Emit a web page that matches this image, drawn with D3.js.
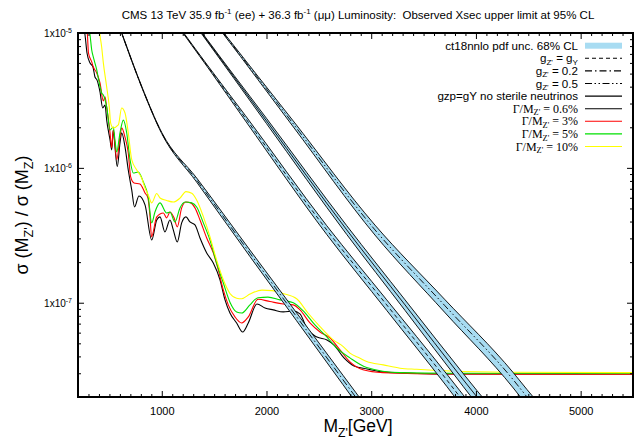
<!DOCTYPE html>
<html><head><meta charset="utf-8">
<script src="https://cdn.jsdelivr.net/npm/d3@7"></script>
<style>
body{margin:0;background:#fff}
svg{display:block}
text{font-family:"Liberation Sans",Arial,sans-serif;fill:#000}
.serif{font-family:"Liberation Serif","Times New Roman",serif}
</style>
</head><body><svg id="c" width="637" height="439"></svg>
<script>
// ---------- tick labels ----------
const xTickValues = [1000, 2000, 3000, 4000, 5000];
const yTickValues = [1e-5, 1e-6, 1e-7];
const yTickExponents = ["-5", "-6", "-7"];

// ---------- observed limits (sigma(MZ')/sigma(MZ)) ----------
const lim06Mass = [250,267,286,315,343,362,381,410,436,458,474,506,522,537,553,575,601,617,649,680,713,740,782,840,904,952,983,1030,1078,1110,1148,1190,1231,1269,1317,1365,1429,1492,1556,1604,1651,1715,1773,1826,1909,1986,2065,2160,2256,2320,2387,2482,2578,2645,2740,2836,2960,3112,3437,3752,5500];
const lim06Sigma = [1.15e-5,9.66e-6,7.11e-6,6.00e-6,5.60e-6,4.72e-6,4.49e-6,3.66e-6,2.78e-6,2.92e-6,2.26e-6,1.61e-6,1.36e-6,1.91e-6,1.43e-6,1.02e-6,1.53e-6,1.82e-6,1.43e-6,9.64e-7,6.86e-7,5.13e-7,6.19e-7,5.31e-7,2.92e-7,4.11e-7,4.33e-7,3.35e-7,4.11e-7,3.47e-7,2.82e-7,3.91e-7,4.33e-7,3.97e-7,3.78e-7,3.02e-7,2.34e-7,1.97e-7,1.48e-7,1.05e-7,8.39e-8,7.08e-8,6.07e-8,7.08e-8,9.79e-8,9.14e-8,8.85e-8,8.55e-8,8.69e-8,8.26e-8,6.40e-8,5.57e-8,5.30e-8,4.86e-8,3.90e-8,3.40e-8,3.23e-8,3.07e-8,2.99e-8,2.96e-8,2.96e-8];

const lim3Mass = [280,290,300,331,346,379,410,442,458,474,506,522,537,570,601,617,649,680,703,735,792,840,868,888,902,952,1015,1047,1078,1117,1148,1190,1231,1276,1317,1365,1429,1492,1540,1588,1635,1699,1763,1826,1919,2033,2160,2256,2320,2415,2511,2606,2702,2797,2921,3112,3752,5500];
const lim3Sigma = [1.15e-5,9.66e-6,7.11e-6,6.10e-6,5.60e-6,5.05e-6,4.26e-6,3.13e-6,3.36e-6,2.82e-6,1.82e-6,1.41e-6,1.91e-6,1.15e-6,1.69e-6,1.98e-6,1.69e-6,1.29e-6,8.57e-7,7.73e-7,7.60e-7,6.52e-7,5.98e-7,4.33e-7,3.08e-7,4.33e-7,4.63e-7,4.26e-7,4.71e-7,4.26e-7,3.65e-7,5.05e-7,5.58e-7,5.50e-7,5.05e-7,4.11e-7,3.02e-7,2.34e-7,1.75e-7,1.24e-7,9.64e-8,7.85e-8,7.08e-8,7.85e-8,1.06e-7,1.02e-7,9.79e-8,9.64e-8,8.85e-8,7.08e-8,6.07e-8,5.48e-8,4.47e-8,3.64e-8,3.18e-8,3.03e-8,2.96e-8,2.95e-8];

const lim5Mass = [300,315,331,346,379,394,426,442,474,506,537,553,570,601,633,665,697,728,776,824,871,904,935,983,1047,1078,1126,1174,1222,1286,1333,1397,1460,1524,1588,1651,1715,1763,1842,1919,2014,2129,2256,2351,2463,2578,2670,2797,2957,3275,3752,5500];
const lim5Sigma = [1.15e-5,9.66e-6,7.48e-6,6.64e-6,5.32e-6,4.63e-6,3.59e-6,3.47e-6,2.82e-6,1.91e-6,2.01e-6,1.61e-6,1.31e-6,1.82e-6,2.26e-6,1.82e-6,1.15e-6,9.16e-7,9.33e-7,7.85e-7,6.08e-7,3.91e-7,4.71e-7,5.50e-7,4.63e-7,4.71e-7,3.97e-7,5.05e-7,5.58e-7,5.50e-7,5.13e-7,3.91e-7,2.92e-7,1.97e-7,1.40e-7,1.01e-7,8.55e-8,8.39e-8,9.64e-8,1.09e-7,1.10e-7,1.05e-7,1.00e-7,8.69e-8,6.84e-8,5.57e-8,4.62e-8,3.90e-8,3.31e-8,3.03e-8,3.00e-8,3.00e-8];

const lim10Mass = [400,410,426,442,474,499,512,537,585,617,649,680,713,761,808,840,871,904,952,983,1047,1110,1174,1231,1286,1333,1397,1460,1524,1588,1651,1715,1763,1842,1957,2052,2160,2288,2396,2511,2638,2733,2797,2893,2957,3115,3275,3434,3752,4389,5500];
const lim10Sigma = [1.15e-5,9.66e-6,7.87e-6,6.00e-6,3.98e-6,2.82e-6,2.15e-6,1.98e-6,2.08e-6,2.78e-6,2.55e-6,1.82e-6,1.15e-6,9.64e-7,8.41e-7,7.10e-7,6.30e-7,5.50e-7,6.46e-7,5.98e-7,5.73e-7,5.58e-7,5.96e-7,6.67e-7,6.49e-7,5.78e-7,4.35e-7,3.09e-7,2.07e-7,1.48e-7,1.17e-7,1.08e-7,1.07e-7,1.16e-7,1.24e-7,1.23e-7,1.17e-7,1.07e-7,8.39e-8,6.65e-8,5.30e-8,4.73e-8,4.23e-8,3.88e-8,3.66e-8,3.46e-8,3.27e-8,3.21e-8,3.12e-8,3.05e-8,3.03e-8];

// ---------- theory predictions with ct18nnlo pdf uncertainty (%) ----------
const g02Mass  = [500,617,808,1000,1333,1842,2731,2851,3000];
const g02Sigma = [1.78e-5,1.00e-5,4.00e-6,1.81e-6,8.13e-7,2.33e-7,2.68e-8,2.00e-8,1.39e-8];
const g02Unc   = [0.8,0.8,0.8,1,3.5,5.5,8,8.5,9];

const gYMass  = [1100,1206,1430,1800,2575,3148,3721,3848,4000];
const gYSigma = [1.30e-5,1.00e-5,5.77e-6,2.33e-6,3.47e-7,9.64e-8,2.68e-8,2.00e-8,1.41e-8];
const gYUnc   = [1,1,1.5,4.5,7.5,9,10.5,11,11.5];

const gYnsMass  = [1280,1381,2000,2766,3323,3880,4010,4150];
const gYnsSigma = [1.28e-5,1.00e-5,2.23e-6,3.47e-7,9.64e-8,2.68e-8,2.00e-8,1.48e-8];
const gYnsUnc   = [1.5,1.5,4.5,7.5,9,11,11.5,12];

const g05Mass  = [1480,1587,2250,3036,3700,4357,4488,4650];
const g05Sigma = [1.28e-5,1.00e-5,2.15e-6,3.47e-7,9.57e-8,2.68e-8,2.00e-8,1.41e-8];
const g05Unc   = [1.5,1.5,5,8.5,11,13,13.5,14];

// ---------- drawing ----------
const svg = d3.select("#c");
const M = {l:78, r:633, t:33, b:397};
const x = d3.scaleLinear().domain([200, 5500]).range([M.l, M.r]);
const y = d3.scaleLog().domain([2e-8, 1e-5]).range([M.b, M.t]);

svg.append("rect").attr("width",637).attr("height",439).attr("fill","#fff");
svg.append("clipPath").attr("id","clip").append("rect")
  .attr("x",M.l).attr("y",M.t).attr("width",M.r-M.l).attr("height",M.b-M.t);
const plot = svg.append("g").attr("clip-path","url(#clip)");

const zip = (ms, ss, us) => ms.map((m,i) => ({m, s:ss[i], u: us ? us[i] : 0}));

const bands = [
  {d: zip(g02Mass, g02Sigma, g02Unc), dash:"7,3,1.5,3"},
  {d: zip(gYMass, gYSigma, gYUnc), dash:"4,3"},
  {d: zip(gYnsMass, gYnsSigma, gYnsUnc), dash:null},
  {d: zip(g05Mass, g05Sigma, g05Unc), dash:"7,2.5,1.5,2.5,1.5,2.5"}
];
const bandFill = "#a8dcf2";
const area = d3.area().x(d=>x(d.m)).y0(d=>y(d.s*(1-d.u/100))).y1(d=>y(d.s*(1+d.u/100))).curve(d3.curveMonotoneX);
const lineUp = d3.line().x(d=>x(d.m)).y(d=>y(d.s*(1+d.u/100))).curve(d3.curveMonotoneX);
const lineLo = d3.line().x(d=>x(d.m)).y(d=>y(d.s*(1-d.u/100))).curve(d3.curveMonotoneX);
const lineC  = d3.line().x(d=>x(d.m)).y(d=>y(d.s)).curve(d3.curveMonotoneX);

const limits = [
  {d: zip(lim06Mass, lim06Sigma), c:"#000000"},
  {d: zip(lim3Mass, lim3Sigma), c:"#ff0000"},
  {d: zip(lim5Mass, lim5Sigma), c:"#00e000"},
  {d: zip(lim10Mass, lim10Sigma), c:"#ffff00"}
];
limits.forEach(L => {
  plot.append("path").attr("d", lineC(L.d)).attr("fill","none")
    .attr("stroke", L.c).attr("stroke-width",1.1).attr("stroke-linejoin","round");
});

bands.forEach(B => {
  plot.append("path").attr("d", area(B.d)).attr("fill", bandFill);
  plot.append("path").attr("d", lineUp(B.d)).attr("fill","none").attr("stroke","#000").attr("stroke-width",0.9);
  plot.append("path").attr("d", lineLo(B.d)).attr("fill","none").attr("stroke","#000").attr("stroke-width",0.9);
  plot.append("path").attr("d", lineC(B.d)).attr("fill","none").attr("stroke","#000").attr("stroke-width",0.9)
    .attr("stroke-dasharray", B.dash);
});

// ---------- rich text helper ----------
function rich(t, parts, size, subShift){
  let cur = 0;
  const sub = subShift === undefined ? 0.3 : subShift;
  parts.forEach(([s, mode]) => {
    const target = mode===1 ? sub*size : mode===2 ? -0.42*size : 0;
    const ts = t.append("tspan").text(s).attr("dy", (target-cur).toFixed(2));
    if (mode) ts.attr("font-size", (0.7*size).toFixed(2));
    cur = target;
  });
  return t;
}

// ---------- axes ----------
const minorX = d3.range(300, 5500, 100).filter(v => v % 1000 !== 0);
const minorY = [];
[-8,-7,-6].forEach(e => { for (let k=2;k<=9;k++){ const v=k*Math.pow(10,e); if (v>=2e-8 && v<1e-5) minorY.push(v);} });

function styleAxis(g){ g.select(".domain").remove(); g.selectAll(".tick line").attr("stroke","#000").attr("stroke-width",1); }

svg.append("g").attr("transform",`translate(0,${M.b})`)
  .call(d3.axisBottom(x).tickValues(xTickValues).tickSize(-6).tickPadding(10.3).tickFormat(d3.format("d")))
  .call(styleAxis).call(g => g.selectAll("text").attr("font-size",11).attr("font-family","Liberation Sans, Arial, sans-serif").attr("fill","#000"));
svg.append("g").attr("transform",`translate(0,${M.b})`)
  .call(d3.axisBottom(x).tickValues(minorX).tickSize(-3).tickFormat("")).call(styleAxis);
svg.append("g").attr("transform",`translate(0,${M.t})`)
  .call(d3.axisTop(x).tickValues(xTickValues).tickSize(-6).tickFormat("")).call(styleAxis);
svg.append("g").attr("transform",`translate(0,${M.t})`)
  .call(d3.axisTop(x).tickValues(minorX).tickSize(-3).tickFormat("")).call(styleAxis);
svg.append("g").attr("transform",`translate(${M.l},0)`)
  .call(d3.axisLeft(y).tickValues(yTickValues).tickSize(-6).tickFormat("")).call(styleAxis);
svg.append("g").attr("transform",`translate(${M.l},0)`)
  .call(d3.axisLeft(y).tickValues(minorY).tickSize(-3).tickFormat("")).call(styleAxis);
svg.append("g").attr("transform",`translate(${M.r},0)`)
  .call(d3.axisRight(y).tickValues(yTickValues).tickSize(-6).tickFormat("")).call(styleAxis);
svg.append("g").attr("transform",`translate(${M.r},0)`)
  .call(d3.axisRight(y).tickValues(minorY).tickSize(-3).tickFormat("")).call(styleAxis);

yTickValues.forEach((v,i) => {
  const t = svg.append("text").attr("x", 72).attr("y", y(v)+4).attr("text-anchor","end").attr("font-size",10);
  rich(t, [["1x10",0],[yTickExponents[i],2]], 10);
});

// border
svg.append("rect").attr("x",M.l).attr("y",M.t).attr("width",M.r-M.l).attr("height",M.b-M.t)
  .attr("fill","none").attr("stroke","#000").attr("stroke-width",2);

// ---------- titles ----------
const title = svg.append("text").attr("x",358).attr("y",19).attr("text-anchor","middle")
  .attr("font-size",11.5).attr("xml:space","preserve").style("white-space","pre");
rich(title, [["CMS 13 TeV 35.9 fb",0],["-1",2],[" (ee) + 36.3 fb",0],["-1",2],[" (\u03bc\u03bc) Luminosity:  Observed Xsec upper limit at 95% CL",0]], 11.5);

const xl = svg.append("text").attr("x",358).attr("y",432).attr("text-anchor","middle").attr("font-size",17.5);
rich(xl, [["M",0],["Z'",1],["[GeV]",0]], 17.5);

const yl = svg.append("text").attr("transform","translate(28,215) rotate(-90)").attr("text-anchor","middle").attr("font-size",18);
rich(yl, [["\u03c3 (M",0],["Z'",1],[") / \u03c3 (M",0],["Z",1],[")",0]], 18);

// ---------- legend ----------
const legendRows = [
  {parts:[["ct18nnlo pdf unc. 68% CL",0]], kind:"box"},
  {parts:[["g",0],["Z'",1],[" = g",0],["Y",1]], kind:"line", dash:"4,3", c:"#000"},
  {parts:[["g",0],["Z'",1],[" = 0.2",0]], kind:"line", dash:"7,3,1.5,3", c:"#000"},
  {parts:[["g",0],["Z'",1],[" = 0.5",0]], kind:"line", dash:"7,2.5,1.5,2.5,1.5,2.5", c:"#000"},
  {parts:[["gzp=gY no sterile neutrinos",0]], kind:"line", dash:null, c:"#000"},
  {parts:[["\u0393/M",0],["Z'",1],[" = 0.6%",0]], kind:"line", dash:null, c:"#000", serif:true},
  {parts:[["\u0393/M",0],["Z'",1],[" = 3%",0]], kind:"line", dash:null, c:"#ff0000", serif:true},
  {parts:[["\u0393/M",0],["Z'",1],[" = 5%",0]], kind:"line", dash:null, c:"#00e000", serif:true},
  {parts:[["\u0393/M",0],["Z'",1],[" = 10%",0]], kind:"line", dash:null, c:"#ffff00", serif:true}
];
const lg = svg.append("g");
legendRows.forEach((r,i) => {
  const yy = 45.7 + i*12.6;
  const fs = r.serif ? 12 : 11.6;
  const t = lg.append("text").attr("x",578).attr("y",yy+4).attr("text-anchor","end").attr("font-size",fs);
  if (r.serif) t.attr("class","serif");
  rich(t, r.parts, fs, 0.22);
  if (r.kind === "box") {
    lg.append("rect").attr("x",585).attr("y",yy-3).attr("width",37).attr("height",6).attr("fill",bandFill);
  } else {
    lg.append("line").attr("x1",585).attr("x2",622).attr("y1",yy).attr("y2",yy)
      .attr("stroke",r.c).attr("stroke-width",1.1).attr("stroke-dasharray",r.dash);
  }
});
</script>
</body></html>
